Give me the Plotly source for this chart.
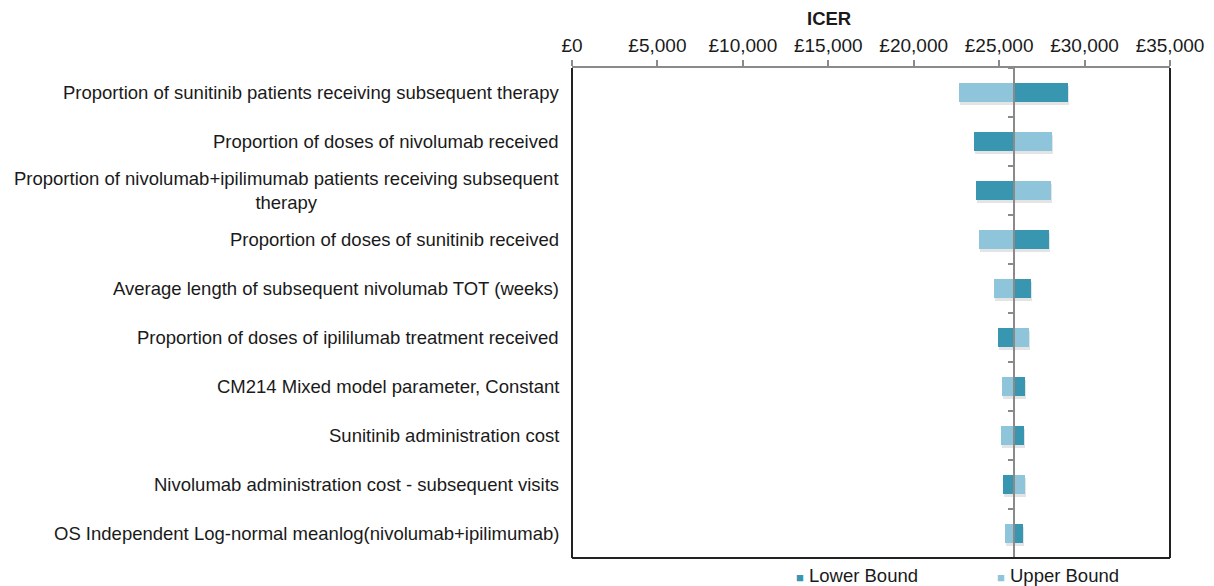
import plotly.graph_objects as go

# One-way sensitivity analysis: ICER (GBP) at the lower / upper parameter bounds
parameters = [
    "Proportion of sunitinib patients receiving subsequent therapy",
    "Proportion of doses of nivolumab received",
    "Proportion of nivolumab+ipilimumab patients receiving subsequent<br>therapy",
    "Proportion of doses of sunitinib received",
    "Average length of subsequent nivolumab TOT (weeks)",
    "Proportion of doses of ipililumab treatment received",
    "CM214 Mixed model parameter, Constant",
    "Sunitinib administration cost",
    "Nivolumab administration cost - subsequent visits",
    "OS Independent Log-normal meanlog(nivolumab+ipilimumab)",
]
lower_bound = [29010, 23530, 23640, 27920, 26860, 24930, 26510, 26450, 25220, 26400]
upper_bound = [22650, 28090, 28030, 23820, 24700, 26750, 25170, 25110, 26510, 25340]
base_icer = 25850

x_ticks = [0, 5000, 10000, 15000, 20000, 25000, 30000, 35000]
x_tick_labels = ["£0", "£5,000", "£10,000", "£15,000", "£20,000", "£25,000", "£30,000", "£35,000"]
x_max = 35000

DARK = "#3896b0"
LIGHT = "#8fc5da"
FONT = "Liberation Sans, Arial, sans-serif"
TXT = "#1a1a1a"

BAR_W = 0.37
cat_ids = list(range(len(parameters)))

fig = go.Figure()

# soft drop shadow under each bar pair
lo_edge = [min(a, b) for a, b in zip(lower_bound, upper_bound)]
hi_edge = [max(a, b) for a, b in zip(lower_bound, upper_bound)]
fig.add_trace(go.Bar(
    y=cat_ids, x=[h - l for l, h in zip(lo_edge, hi_edge)], base=[l + 60 for l in lo_edge],
    orientation="h", width=BAR_W, offset=-BAR_W / 2 + 0.06,
    marker=dict(color="rgba(90,90,90,0.16)", line=dict(width=0)),
    hoverinfo="skip", showlegend=False,
))

fig.add_trace(go.Bar(
    name="Lower Bound", y=cat_ids, x=[v - base_icer for v in lower_bound], base=base_icer,
    orientation="h", width=BAR_W, marker=dict(color=DARK, line=dict(width=0)),
    showlegend=False,
))
fig.add_trace(go.Bar(
    name="Upper Bound", y=cat_ids, x=[v - base_icer for v in upper_bound], base=base_icer,
    orientation="h", width=BAR_W, marker=dict(color=LIGHT, line=dict(width=0)),
    showlegend=False,
))

# parameter names on the left of the plot
annotations = []
for i, name in enumerate(parameters):
    annotations.append(dict(
        x=0, xref="paper", y=i, yref="y", xanchor="right", yanchor="middle",
        xshift=-11, text=name, showarrow=False, align="center",
        font=dict(family=FONT, size=18.5, color=TXT),
    ))

# axis title
annotations.append(dict(
    x=(829 - 572) / 598, xref="paper", y=1, yref="paper", yshift=50,
    text="<b>ICER</b>", showarrow=False, xanchor="center", yanchor="middle",
    font=dict(family=FONT, size=18.5, color=TXT),
))

# legend entries
for label, color, px in [("Lower Bound", DARK, 794), ("Upper Bound", LIGHT, 995)]:
    annotations.append(dict(
        x=(px - 572) / 598, xref="paper", y=0, yref="paper", yshift=-17,
        xanchor="left", yanchor="middle", showarrow=False,
        text=f'<span style="color:{color};font-size:13px">■</span> {label}',
        font=dict(family=FONT, size=18.5, color=TXT),
    ))

# black frame on left, right and bottom
shapes = [
    dict(type="line", xref="paper", yref="paper", x0=0, x1=0, y0=0, y1=1,
         line=dict(color="#222", width=2)),
    dict(type="line", xref="paper", yref="paper", x0=1, x1=1, y0=0, y1=1,
         line=dict(color="#222", width=2)),
    dict(type="line", xref="paper", yref="paper", x0=0, x1=1, y0=0, y1=0,
         line=dict(color="#222", width=2)),
]

fig.update_layout(
    width=1214, height=586,
    margin=dict(l=572, r=44, t=68, b=28, autoexpand=False),
    paper_bgcolor="white", plot_bgcolor="white",
    barmode="overlay", bargap=0,
    font=dict(family=FONT, size=18.5, color=TXT),
    annotations=annotations, shapes=shapes,
    xaxis=dict(
        range=[0, x_max], side="top", tickvals=x_ticks, ticktext=x_tick_labels,
        automargin=False,
        showline=True, linecolor="#8a8a8a", linewidth=2,
        ticks="outside", ticklen=6, tickwidth=2, tickcolor="#8a8a8a",
        showgrid=False, zeroline=False,
        tickfont=dict(family=FONT, size=19, color=TXT),
    ),
    yaxis=dict(
        type="linear", range=[len(parameters) - 0.5, -0.5],
        anchor="free", position=base_icer / x_max, automargin=False,
        showline=True, linecolor="#8a8a8a", linewidth=2,
        tickvals=[i + 0.5 for i in range(-1, len(parameters))],
        ticks="outside", ticklen=5, tickwidth=2, tickcolor="#8a8a8a",
        showticklabels=False, showgrid=False, zeroline=False,
    ),
)

fig.write_html("out.html")
